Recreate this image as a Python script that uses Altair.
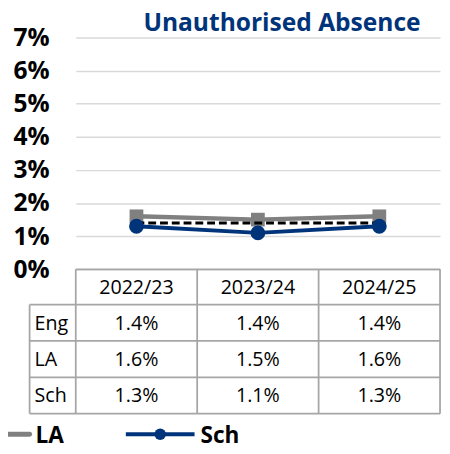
import altair as alt
import pandas as pd

# ---- data ----
years = ["2022/23", "2023/24", "2024/25"]
series = ["Eng", "LA", "Sch"]
eng = [1.4, 1.4, 1.4]
la = [1.6, 1.5, 1.6]
sch = [1.3, 1.1, 1.3]
y_ticks = [0, 1, 2, 3, 4, 5, 6, 7]
title_text = "Unauthorised Absence"

values = {"Eng": eng, "LA": la, "Sch": sch}
rows = []
for s in series:
    for yr, v in zip(years, values[s]):
        rows.append({"year": yr, "series": s, "value": v / 100.0, "label": f"{v:.1f}%"})
df = pd.DataFrame(rows)

# ---- layout ----
W, H = 371, 236
HDR = 36
ROW = 37
LABW = 47
FONT = "Open Sans"
GRID = "#D9D9D9"
BORDER = "#A6A6A6"
LA_C = "#808080"
SCH_C = "#00347A"
TFS = 20

x_enc = alt.X("year:N", scale=alt.Scale(type="point", padding=0.5, domain=years), axis=None)
y_enc = alt.Y(
    "value:Q",
    scale=alt.Scale(domain=[0, 0.07], nice=False, zero=True),
    axis=alt.Axis(
        values=[t / 100 for t in y_ticks],
        format=".0%",
        title=None,
        ticks=False,
        domain=False,
        grid=True,
        gridColor=GRID,
        gridWidth=1.5,
        labelFont=FONT,
        labelFontSize=25,
        labelFontWeight="bold",
        labelColor="#000000",
        labelPadding=27,
    ),
)

base = alt.Chart(df)
one = alt.Chart(pd.DataFrame({"k": [0]}))

layers = []

# lines
la_line = base.transform_filter(alt.datum.series == "LA").mark_line(color=LA_C, strokeWidth=4.5).encode(x=x_enc, y=y_enc)
la_pts = base.transform_filter(alt.datum.series == "LA").mark_point(shape="square", filled=True, opacity=1, size=196, color=LA_C).encode(x=x_enc, y=y_enc)
eng_line = base.transform_filter(alt.datum.series == "Eng").mark_line(color="#000000", strokeWidth=3, strokeDash=[8, 4]).encode(x=x_enc, y=y_enc)
sch_line = base.transform_filter(alt.datum.series == "Sch").mark_line(color=SCH_C, strokeWidth=4).encode(x=x_enc, y=y_enc)
sch_pts = base.transform_filter(alt.datum.series == "Sch").mark_circle(size=227, opacity=1, color=SCH_C).encode(x=x_enc, y=y_enc)
layers += [la_line, la_pts, eng_line, sch_line, sch_pts]

# table borders
def rule(x1, x2, y1, y2):
    return one.mark_rule(color=BORDER, strokeWidth=1.8).encode(
        x=alt.value(x1), x2=alt.value(x2), y=alt.value(y1), y2=alt.value(y2)
    )

t0 = H
t1 = H + HDR
tb = t1 + 3 * ROW
layers.append(rule(0, W, t0, t0))
for i in range(4):
    yy = t1 + i * ROW
    layers.append(rule(-LABW, W, yy, yy))
layers.append(rule(-LABW, -LABW, t1, tb))
for i in range(4):
    xx = i * W / 3
    layers.append(rule(xx, xx, t0, tb))

# header text
hdr = alt.Chart(pd.DataFrame({"year": years})).mark_text(
    font=FONT, fontSize=TFS, color="#000000", baseline="middle"
).encode(x=x_enc, y=alt.value(t0 + HDR / 2 + 1), text="year:N")
layers.append(hdr)

# table values + row labels
for i, s in enumerate(series):
    cy = t1 + i * ROW + ROW / 2 + 1
    layers.append(
        base.transform_filter(alt.datum.series == s).mark_text(
            font=FONT, fontSize=TFS, color="#000000", baseline="middle"
        ).encode(x=x_enc, y=alt.value(cy), text="label:N")
    )
    layers.append(
        alt.Chart(pd.DataFrame({"series": [s]})).mark_text(
            font=FONT, fontSize=TFS, color="#000000", baseline="middle", align="left"
        ).encode(x=alt.value(-LABW + 5), y=alt.value(cy), text="series:N")
    )

# title
layers.append(
    one.transform_calculate(t=f"'{title_text}'").mark_text(
        font=FONT, fontSize=25, fontWeight="bold", color=SCH_C, baseline="alphabetic", align="center"
    ).encode(x=alt.value(210), y=alt.value(-7), text="t:N")
)

# legend (LA partly cut off at left edge, Sch)
LEG_Y = 404
layers.append(one.mark_rule(color=LA_C, strokeWidth=5, strokeCap="round").encode(
    x=alt.value(-69), x2=alt.value(-47), y=alt.value(LEG_Y)))
layers.append(
    alt.Chart(pd.DataFrame({"series": ["LA"]})).mark_text(
        font=FONT, fontSize=23, fontWeight="bold", color="#000000", baseline="middle", align="left"
    ).encode(x=alt.value(-41), y=alt.value(LEG_Y + 2), text="series:N")
)
layers.append(one.mark_rule(color=SCH_C, strokeWidth=4).encode(
    x=alt.value(51), x2=alt.value(121), y=alt.value(LEG_Y)))
layers.append(one.mark_point(shape="circle", filled=True, opacity=1, size=140, color=SCH_C).encode(
    x=alt.value(86), y=alt.value(LEG_Y)))
layers.append(
    alt.Chart(pd.DataFrame({"series": ["Sch"]})).mark_text(
        font=FONT, fontSize=23, fontWeight="bold", color="#000000", baseline="middle", align="left"
    ).encode(x=alt.value(127), y=alt.value(LEG_Y + 2), text="series:N")
)

chart = alt.layer(*layers).properties(
    width=W,
    height=H,
    autosize=alt.AutoSizeParams(type="none"),
    padding={"left": 69, "top": 26, "right": 2, "bottom": 184},
).configure_view(stroke=None)

chart.save("out.html", embed_options={"renderer": "svg", "actions": False})
